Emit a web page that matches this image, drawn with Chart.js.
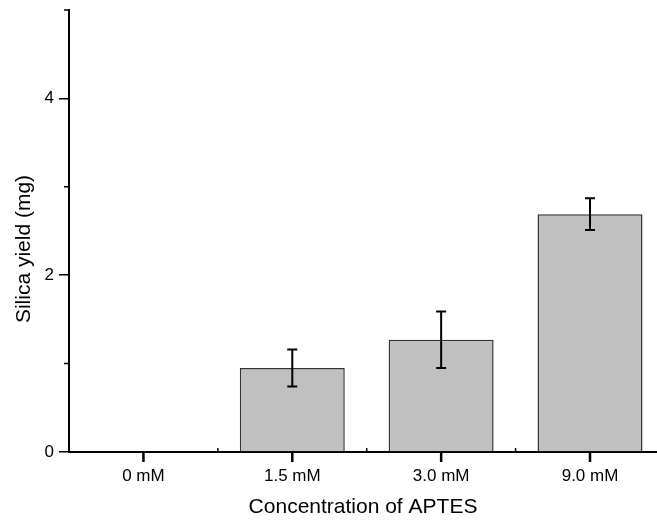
<!DOCTYPE html>
<html>
<head>
<meta charset="utf-8">
<script src="https://cdn.jsdelivr.net/npm/chart.js@4"></script>
<style>
  html, body { margin: 0; padding: 0; background: #fff; }
  #wrap { width: 657px; height: 522px; position: relative; }
</style>
</head>
<body>
<div id="wrap"><canvas id="yieldChart"></canvas></div>
<script>
// data
const categories = ['0 mM', '1.5 mM', '3.0 mM', '9.0 mM'];
const yieldMg = [0, 0.95, 1.27, 2.69];
const yieldErr = [0, 0.21, 0.32, 0.18];
const yTicks = [0, 2, 4];

const FONT = "'Liberation Sans', Arial, sans-serif";

// error bars, tick marks and the y title
const extrasPlugin = {
    id: 'extras',
    afterDatasetsDraw(chart) {
        const ctx = chart.ctx;
        const meta = chart.getDatasetMeta(0);
        const y = chart.scales.y;
        ctx.save();
        ctx.strokeStyle = '#000';
        ctx.lineWidth = 2;
        meta.data.forEach((bar, i) => {
            if (!yieldErr[i]) return;
            const x = bar.x;
            const top = y.getPixelForValue(yieldMg[i] + yieldErr[i]);
            const bot = y.getPixelForValue(yieldMg[i] - yieldErr[i]);
            ctx.beginPath();
            ctx.moveTo(x, top); ctx.lineTo(x, bot);
            ctx.moveTo(x - 5, top); ctx.lineTo(x + 5, top);
            ctx.moveTo(x - 5, bot); ctx.lineTo(x + 5, bot);
            ctx.stroke();
        });
        ctx.restore();
    },
    afterDraw(chart) {
        const ctx = chart.ctx;
        const x = chart.scales.x, y = chart.scales.y;
        const area = chart.chartArea;
        ctx.save();
        // major x ticks
        ctx.strokeStyle = '#000000';
        ctx.lineWidth = 2.5;
        ctx.beginPath();
        categories.forEach((c, i) => {
            const px = x.getPixelForValue(i);
            ctx.moveTo(px, area.bottom); ctx.lineTo(px, area.bottom + 10);
        });
        ctx.stroke();
        // minor ticks
        ctx.lineWidth = 1.5;
        ctx.beginPath();
        [1, 3, 5].forEach(v => {
            const py = y.getPixelForValue(v);
            ctx.moveTo(area.left - 5, py); ctx.lineTo(area.left, py);
        });
        [0.5, 1.5, 2.5].forEach(v => {
            const px = x.getPixelForValue(v);
            ctx.moveTo(px, area.bottom); ctx.lineTo(px, area.bottom - 4);
        });
        ctx.stroke();
        ctx.fillStyle = '#000';
        ctx.font = '21px ' + FONT;
        ctx.textAlign = 'center';
        ctx.textBaseline = 'middle';
        ctx.translate(24, 249);
        ctx.rotate(-Math.PI / 2);
        ctx.fillText('Silica yield (mg)', 0, 0);
        ctx.restore();
    }
};

new Chart(document.getElementById('yieldChart').getContext('2d'), {
    type: 'bar',
    data: {
        datasets: [{
            data: yieldMg.map((v, i) => ({ x: i, y: v })),
            backgroundColor: '#c0c0c0',
            borderColor: '#333',
            borderWidth: 1.5,
            barPercentage: 0.705,
            categoryPercentage: 1
        }]
    },
    options: {
        responsive: true,
        maintainAspectRatio: false,
        animation: false,
        layout: { padding: { top: 10, right: 0, left: 0, bottom: 0 } },
        plugins: {
            legend: { display: false },
            tooltip: { enabled: false }
        },
        scales: {
            x: {
                type: 'linear',
                offset: false,
                min: -0.5,
                max: 3.45,
                afterBuildTicks(scale) {
                    scale.ticks = categories.map((c, i) => ({ value: i }));
                },
                afterFit(scale) { scale.height = 70; },
                grid: { offset: false, drawOnChartArea: false, tickLength: 10, color: 'transparent' },
                border: { color: '#000', width: 2 },
                ticks: {
                    color: '#000',
                    padding: 4,
                    maxRotation: 0,
                    font: { family: FONT, size: 17 },
                    callback: (v) => categories[v] ?? ''
                },
                title: {
                    display: true,
                    text: 'Concentration of APTES',
                    color: '#000',
                    font: { family: FONT, size: 21 },
                    padding: { top: 0, bottom: 2 }
                }
            },
            y: {
                min: 0,
                max: 5,
                afterBuildTicks(scale) {
                    scale.ticks = yTicks.map(v => ({ value: v }));
                },
                afterFit(scale) {
                    scale.width = 69;
                    scale.paddingTop = 10;
                },
                grid: { drawOnChartArea: false, tickLength: 10, color: '#000', lineWidth: 1.5 },
                border: { color: '#000', width: 2 },
                ticks: {
                    color: '#000',
                    padding: 5,
                    font: { family: FONT, size: 17 }
                }
            }
        }
    },
    plugins: [extrasPlugin]
});
</script>
</body>
</html>
